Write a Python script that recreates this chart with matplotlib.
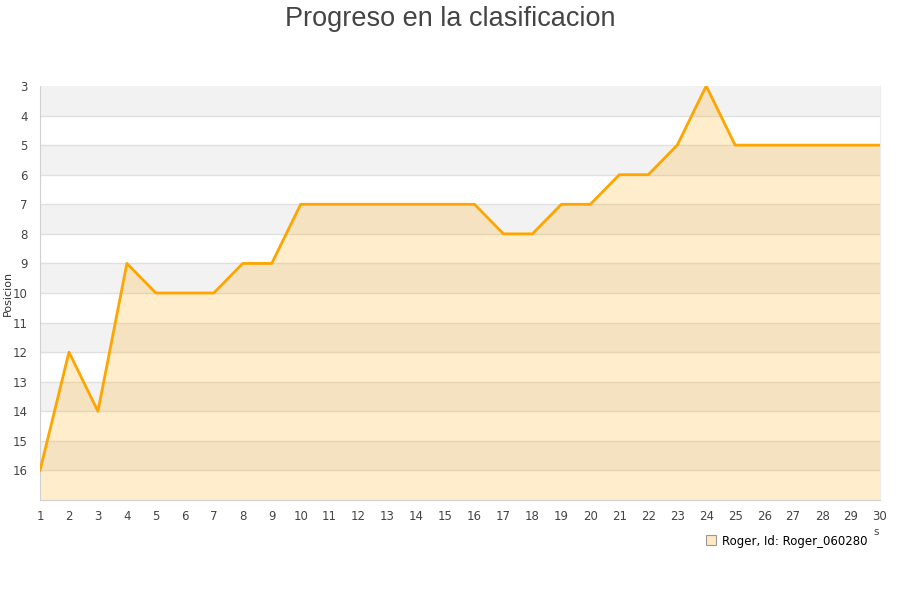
import numpy as np
from matplotlib import pyplot as plt
from matplotlib.lines import Line2D

# Jornada number and ranking position
jornadas = list(range(1, 31))
posicion = [16, 12, 14, 9, 10, 10, 10, 9, 9, 7,
            7, 7, 7, 7, 7, 7, 8, 8, 7, 7,
            6, 6, 5, 3, 5, 5, 5, 5, 5, 5]
y_ticks = list(range(3, 17))
serie = "Roger, Id: Roger_060280"

fig = plt.figure(figsize=(9, 6), dpi=100)
ax = fig.add_axes([40 / 900, 1 - 500 / 600, 840 / 900, 414 / 600])

# alternating background bands
for y in range(3, 17, 2):
    ax.axhspan(y, y + 1, color="#f2f2f2", lw=0, zorder=0)
for y in range(4, 17):
    ax.axhline(y, color="#e0e0e0", lw=1, zorder=1)

ax.fill_between(jornadas, posicion, 17, color="#ffa500", alpha=0.2, lw=0, zorder=2)
ax.plot(jornadas, posicion, color="#ffa500", lw=2.0, zorder=3)

ax.set_xlim(1, 30)
ax.set_ylim(17, 3)
ax.set_xticks(jornadas)
ax.set_yticks(y_ticks)
ax.tick_params(length=0, labelsize=8.5, labelcolor="#444444")
ax.tick_params(axis="x", pad=7)
ax.tick_params(axis="y", pad=9)
for lbl in ax.get_yticklabels():
    lbl.set_verticalalignment("center_baseline")
ax.spines["top"].set_visible(False)
for side in ["left", "bottom"]:
    ax.spines[side].set_color("#d0d0d0")
ax.spines["right"].set_color("#ececec")

ax.set_ylabel("Posicion", fontsize=8, color="#333333")
ax.yaxis.set_label_coords(-27.5 / 840, 0.5)
fig.text(0.5, 1 - 26 / 600, "Progreso en la clasificacion", ha="center", va="baseline",
         fontsize=19.5, color="#444444", family="Liberation Sans")
fig.text(876 / 900, 1 - 532 / 600, "s", ha="center", va="center", fontsize=7.5, color="#444444")

handle = Line2D([], [], marker="s", ls="none", markersize=7,
                markerfacecolor="#ffe9c2", markeredgecolor="#999999", markeredgewidth=0.8)
fig.legend([handle], [serie], loc="center left", bbox_to_anchor=(700 / 900, 1 - 541 / 600),
           frameon=False, fontsize=8.5, handletextpad=0.5, borderaxespad=0, handlelength=1)

fig.savefig("out.png", dpi=100)
